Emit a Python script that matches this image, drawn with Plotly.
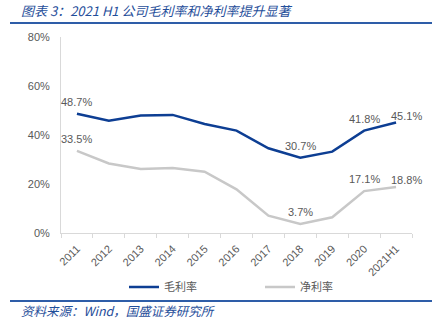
import plotly.graph_objects as go

categories = ["2011", "2012", "2013", "2014", "2015", "2016", "2017", "2018", "2019", "2020", "2021H1"]
gross_margin = [48.7, 45.8, 48.0, 48.2, 44.5, 41.8, 34.6, 30.7, 33.2, 41.8, 45.1]
net_margin = [33.5, 28.4, 26.1, 26.5, 25.0, 17.8, 7.1, 3.7, 6.4, 17.1, 18.8]
label_idx = [0, 7, 9, 10]
yticks = [0, 20, 40, 60, 80]
ytick_text = ["0%", "20%", "40%", "60%", "80%"]

BLUE = "#0D3E93"
GRAY = "#C8C8C8"
TXT = "#595959"
TITLE_BLUE = "#1F4E9A"
FONT = "Liberation Sans, Arial, Noto Sans CJK SC"
CJK = "Noto Sans CJK SC, Liberation Sans"

fig = go.Figure()
fig.add_trace(go.Scatter(x=categories, y=gross_margin, mode="lines", name="毛利率",
                         line=dict(color=BLUE, width=2.5)))
fig.add_trace(go.Scatter(x=categories, y=net_margin, mode="lines", name="净利率",
                         line=dict(color=GRAY, width=2.5)))

L, R, T, B = 61, 412, 37, 233
W, H = R - L, B - T
px = lambda x: (x - L) / W
py = lambda y: (B - y) / H

annotations = []
last = len(categories) - 1
for series in (gross_margin, net_margin):
    for i in label_idx:
        annotations.append(dict(
            x=i, y=series[i], xref="x", yref="y", text=f"{series[i]:.1f}%",
            showarrow=False, xanchor="center", yanchor="middle",
            xshift=10 if i == last else 0, yshift=7 if i == last else 12,
            font=dict(size=11, color=TXT, family=FONT)))

annotations += [
    dict(xref="paper", yref="paper", x=px(19), y=py(10), xanchor="left", yanchor="middle",
         text="<i>图表 3：2021 H1 公司毛利率和净利率提升显著</i>", showarrow=False,
         font=dict(family=CJK, size=13, color=TITLE_BLUE)),
    dict(xref="paper", yref="paper", x=px(19), y=py(310), xanchor="left", yanchor="middle",
         text="<i>资料来源：Wind，国盛证券研究所</i>", showarrow=False,
         font=dict(family=CJK, size=12.5, color=TITLE_BLUE)),
]

fig.update_layout(
    width=446, height=328,
    margin=dict(l=L, r=446 - R, t=T, b=328 - B, autoexpand=False),
    paper_bgcolor="white", plot_bgcolor="white",
    font=dict(family=FONT, size=11, color=TXT),
    showlegend=True,
    legend=dict(orientation="h", xref="container", yref="container",
                x=124 / 446, xanchor="left", y=1 - 287 / 328, yanchor="middle",
                font=dict(family=CJK, size=11, color=TXT), entrywidth=91,
                itemwidth=30, bgcolor="rgba(0,0,0,0)"),
    xaxis=dict(type="category", categoryorder="array", categoryarray=categories,
               range=[-0.5, len(categories) - 0.5],
               showgrid=False, showline=True, linecolor="#D9D9D9", linewidth=1, automargin=False,
               ticks="outside", ticklen=4, tickcolor="#D9D9D9", tickson="boundaries",
               ticklabelstandoff=4,
               tickangle=-45, tickfont=dict(size=11, color=TXT, family=FONT)),
    yaxis=dict(range=[0, 80], tickvals=yticks, ticktext=ytick_text, showgrid=False, automargin=False,
               showline=True, linecolor="#D9D9D9", linewidth=1, zeroline=False,
               ticks="", ticklabelstandoff=8, tickfont=dict(size=11, color=TXT, family=FONT)),
    shapes=[
        dict(type="line", xref="paper", yref="paper", x0=px(10), x1=px(432), y0=py(23), y1=py(23),
             line=dict(color="#2E5DA8", width=2)),
        dict(type="line", xref="paper", yref="paper", x0=px(10), x1=px(432), y0=py(301), y1=py(301),
             line=dict(color="#2E5DA8", width=2)),
    ],
    annotations=annotations,
)

fig.write_html("out.html")
